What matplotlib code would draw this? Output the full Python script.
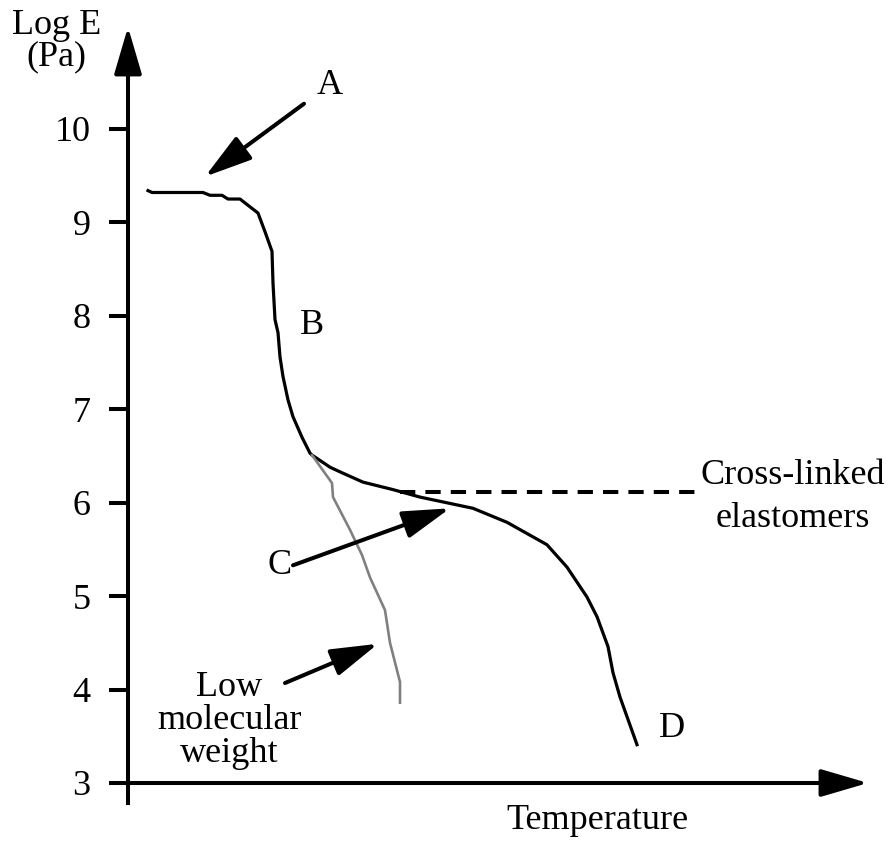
import matplotlib
matplotlib.use('Agg')
import matplotlib.pyplot as plt

plt.rcParams['font.family'] = ['Liberation Serif', 'DejaVu Serif']

# temperature (arbitrary units) and log E (Pa)
temp_main = [20, 24, 75, 82, 94, 100, 112, 130, 137, 144, 145, 147, 150, 152, 155,
             160, 165, 174, 182, 184, 202, 212, 235, 265, 292, 345, 379, 419, 439,
             459, 469, 480, 485, 492, 509]
loge_main = [9.34, 9.32, 9.32, 9.29, 9.29, 9.25, 9.25, 9.10, 8.90, 8.69, 8.35, 7.96,
             7.82, 7.56, 7.35, 7.10, 6.92, 6.70, 6.53, 6.51, 6.38, 6.33, 6.22, 6.14,
             6.06, 5.94, 5.79, 5.55, 5.31, 4.99, 4.78, 4.46, 4.18, 3.92, 3.41]

# low molecular weight branch
temp_low = [184, 204, 205, 222, 234, 242, 257, 262, 272, 272]
loge_low = [6.51, 6.21, 6.06, 5.71, 5.44, 5.20, 4.85, 4.50, 4.08, 3.86]

# cross-linked plateau
temp_xl = [272, 569]
loge_xl = [6.11, 6.11]

yticks = [3, 4, 5, 6, 7, 8, 9, 10]

fig = plt.figure(figsize=(8.94, 8.42), dpi=100)
ax = fig.add_axes([128 / 894, 39 / 842, 697 / 894, 733 / 842])

ax.plot(temp_main, loge_main, color='black', lw=2.3, clip_on=False)
ax.plot(temp_low, loge_low, color='#808080', lw=1.9, clip_on=False)
ax.plot(temp_xl, loge_xl, color='black', lw=2.9, dashes=(3.8, 2.5), clip_on=False)

ax.set_xlim(0, 697)
ax.set_ylim(3 - 20 / 93.43, 10.631)

ax.spines['top'].set_visible(False)
ax.spines['right'].set_visible(False)
ax.spines['bottom'].set_position(('data', 3))
ax.spines['left'].set_linewidth(2.9)
ax.spines['bottom'].set_linewidth(2.9)

ax.set_xticks([])
ax.set_yticks(yticks)
ax.tick_params(axis='y', direction='out', length=14, width=2.9, pad=13, labelsize=26)

# axis arrow heads
head = '-|>,head_length=2.9,head_width=0.85'
ax.annotate('', xy=(0, 1.0587), xytext=(0, 1), xycoords='axes fraction',
            arrowprops=dict(arrowstyle=head, lw=2.9, color='black',
                            shrinkA=0, shrinkB=0, mutation_scale=10))
ax.annotate('', xy=(1.0617, 3), xytext=(1, 3), xycoords=('axes fraction', 'data'),
            arrowprops=dict(arrowstyle=head, lw=2.9, color='black',
                            shrinkA=0, shrinkB=0, mutation_scale=10))

# annotation arrows
arrows = [((77, 9.49), (176, 10.27)),
          ((322, 5.94), (165, 5.33)),
          ((250, 4.49), (157, 4.07))]
for tip, tail in arrows:
    ax.annotate('', xy=tip, xytext=tail,
                arrowprops=dict(arrowstyle=head, lw=2.9, color='black',
                                shrinkA=0, shrinkB=0, mutation_scale=10))

fs = 26
ax.text(202, 10.47, 'A', fontsize=fs, ha='center', va='center')
ax.text(184, 7.90, 'B', fontsize=fs, ha='center', va='center')
ax.text(152, 5.33, 'C', fontsize=fs, ha='center', va='center')
ax.text(544, 3.58, 'D', fontsize=fs, ha='center', va='center')
ax.text(665, 6.06, 'Cross-linked\nelastomers', fontsize=fs, ha='center', va='center',
        linespacing=1.4)
ax.text(101, 3.67, 'Low\nmolecular\nweight', fontsize=fs, ha='center', va='center',
        linespacing=1.0)
ax.text(469, 2.60, 'Temperature', fontsize=fs, ha='center', va='center', clip_on=False)

ax.set_ylabel('Log E\n(Pa)', fontsize=fs, rotation=0, ha='center', va='top',
              linespacing=0.92)
ax.yaxis.set_label_coords(-0.103, 1.083)

fig.savefig('out.png', dpi=100)
